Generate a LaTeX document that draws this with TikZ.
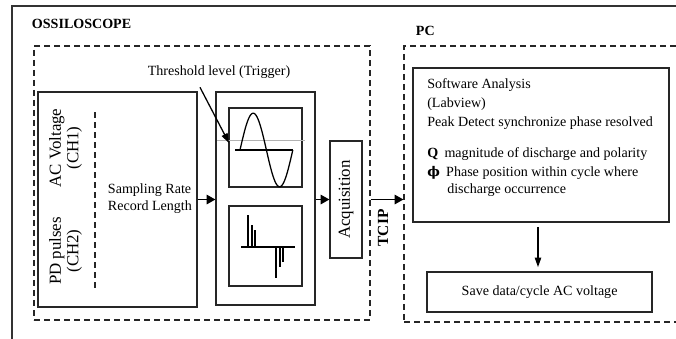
\documentclass[tikz,border=0pt]{standalone}
\usepackage{fontspec}
\setmainfont{Liberation Serif}
\newfontfamily\phifont{DejaVu Serif}
\usepackage{amsmath}
\usepackage{amssymb}
\usetikzlibrary{arrows.meta}
\usetikzlibrary{positioning}

\begin{document}
\begin{tikzpicture}[
			Box/.style={rectangle,draw=black!85,line width=0.9pt,inner sep=0pt},
			Group/.style={rectangle,draw=black!85,line width=0.9pt,dash pattern=on 1.5mm off 1mm,inner sep=0pt},
			Arrow/.style={line width=1pt,-{Triangle[length=2.2mm,width=2.4mm]}},
			Pointer/.style={line width=0.9pt,-{Triangle[length=2.4mm,width=1.6mm]}},
			Big/.style={font=\fontsize{12}{12.5}\selectfont},
			font=\fontsize{10}{12}\selectfont,
			]
			
			%clip
			\useasboundingbox (0,0) rectangle (16.9,8.45);
			\clip (0,0) rectangle (16.9,8.45);
			%frame
			\draw[black!80,line width=1pt] (0.3,-0.5) -- (0.3,8.3) -- (17.5,8.3);
			
			%oscilloscope
			\node[anchor=west,font=\bfseries] (oscname) at (0.675,7.85) {OSSILOSCOPE};
			\node[Group,minimum width=8.4cm,minimum height=6.85cm] (osc) at (5.05,3.875) {};
			
			%channels
			\node[Box,minimum width=3.975cm,minimum height=5.375cm] (chan) at (2.9375,3.4625) {};
			\draw[black!85,line width=0.9pt,dash pattern=on 1.5mm off 1mm] (2.375,5.65) -- (2.375,1.25);
			\node[Big,rotate=90,align=center] (ch1) at (1.64,4.75) {AC Voltage\\(CH1)};
			\node[Big,rotate=90,align=center] (ch2) at (1.64,2.175) {PD pulses\\(CH2)};
			\node[anchor=west,align=left] (rate) at (2.575,3.475) {Sampling Rate\\Record Length};
			
			%screens
			\node[Box,minimum width=2.475cm,minimum height=5.325cm] (scope) at (6.6375,3.4875) {};
			\node[Box,minimum width=1.825cm,minimum height=1.975cm] (wave) at (6.6375,4.7625) {};
			\node[Box,minimum width=1.825cm,minimum height=2cm] (pulse) at (6.6375,2.3) {};
			
			\draw[gray!60,thin] (5.425,4.95) -- (7.625,4.95);
			\draw[line width=0.9pt] (5.875,4.7) -- (7.325,4.7);
			\draw[line width=0.9pt,domain=0:360,samples=60] plot ({6.0+\x/360*1.32},{4.7+0.92*sin(\x)});
			
			\draw[line width=0.9pt] (6.025,2.275) -- (7.375,2.275);
			\foreach \x/\y in {6.2/3.075,6.3/2.825,6.375/2.7,6.9/1.5,7.0/1.775,7.075/1.9}
			{
				\draw[line width=0.9pt] (\x,2.275) -- (\x,\y);
			}
			
			\node (thr) at (5.475,6.65) {Threshold level (Trigger)};
			\coordinate (trig) at (5.725,4.875);
			\draw[Pointer] ([xshift=-0.475cm,yshift=-0.1cm]thr.south) -- (trig);
			
			%acquisition
			\node[Box,minimum width=0.8cm,minimum height=2.925cm] (acq) at (8.65,3.4625) {};
			\node[Big,rotate=90] (acqtext) at (acq) {Acquisition};
			
			\draw[Arrow] (chan.east) -- (chan.east -| scope.west);
			\draw[Arrow] (scope.east |- acq.west) -- (acq.west);
			
			%pc
			\node[anchor=west,font=\bfseries] (pcname) at (10.275,7.675) {PC};
			\node[Group,minimum width=7.2cm,minimum height=6.9cm] (pc) at (13.7,3.85) {};
			\draw[Arrow] (acq.east -| osc.east) -- (acq.east -| pc.west);
			\node[rotate=90,font=\fontsize{11}{12}\selectfont\bfseries] (tcip) at (9.575,2.75) {TCIP};
			
			\node[Box,minimum width=6.4cm,minimum height=3.85cm] (soft) at (13.525,4.825) {};
			\node[anchor=north west,align=left,inner sep=0pt] (softtext) at (10.675,6.5)
			{Software Analysis\\[1.5pt]
			 (Labview)\\[1.5pt]
			 Peak Detect synchronize phase resolved\\[10pt]
			 \textbf{Q}\hspace{0.45em}magnitude of discharge and polarity\\[2pt]
			 {\phifont\bfseries\fontsize{9.5}{12}\selectfont ϕ}\hspace{0.45em}Phase position within cycle where\\
			 \hspace{0.5cm}discharge occurrence};
			
			\node[Box,minimum width=5.625cm,minimum height=1cm] (save) at (13.49,1.15) {Save data/cycle AC voltage};
			\draw[Pointer,shorten <=3pt,shorten >=3pt] (soft.south -| 13.45,0) -- (save.north -| 13.45,0);
			
\end{tikzpicture}
\end{document}
